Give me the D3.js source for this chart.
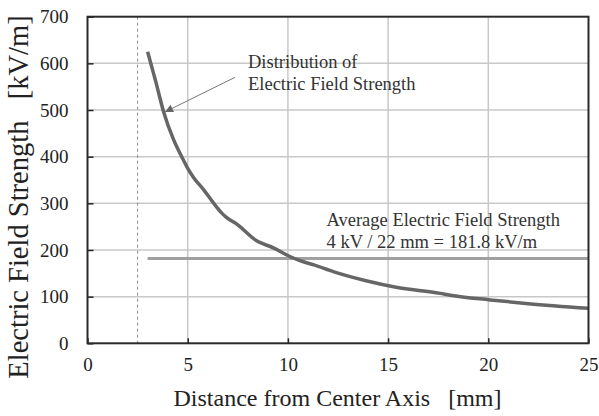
<!DOCTYPE html>
<html>
<head>
<meta charset="utf-8">
<script src="https://cdn.jsdelivr.net/npm/d3@7"></script>
<style>
  html, body { margin: 0; padding: 0; background: #fff; }
  svg { display: block; }
  svg text { font-family: "Liberation Serif", "DejaVu Serif", serif; }
</style>
</head>
<body>
<svg id="chart" width="599" height="416"></svg>
<script>
// Radial distance from the center axis [mm]
const distance = [3.0, 3.4, 3.8, 4.3, 4.7, 5.0, 5.3, 5.8, 6.3, 6.7, 6.9, 7.5, 8.4, 9.3, 10.1, 10.6, 11.3, 12.3, 13.9, 15.4, 17.6, 18.1, 20.1, 22.0, 25.0];
// Simulated electric field strength [kV/m]
const fieldStrength = [625, 562, 496, 436, 400, 375, 355, 329, 300, 279, 271, 254, 221, 204, 186, 177, 168, 153, 134, 120, 107, 103, 93, 85, 75];
// Average field: 4 kV across 22 mm
const averageField = 181.8;
const averageSpan = [3, 25];
// Electrode surface
const electrodeRadius = 2.5;

const xTicks = [0, 5, 10, 15, 20, 25];
const yTicks = [0, 100, 200, 300, 400, 500, 600, 700];

const serif = "Liberation Serif";
const svg = d3.select("#chart");
const plotLeft = 87.5, plotRight = 588.5, plotTop = 16.7, plotBottom = 343.3;

const x = d3.scaleLinear().domain([0, 25]).range([plotLeft, plotRight]);
const y = d3.scaleLinear().domain([0, 700]).range([plotBottom, plotTop]);

// Grid lines
const grid = svg.append("g").attr("stroke", "#c8c8c8").attr("stroke-width", 1.5);
grid.selectAll("line.v").data(xTicks.slice(1, -1)).join("line").attr("class", "v")
  .attr("x1", d => x(d)).attr("x2", d => x(d)).attr("y1", plotTop).attr("y2", plotBottom);
grid.selectAll("line.h").data(yTicks.slice(1, -1)).join("line").attr("class", "h")
  .attr("x1", plotLeft).attr("x2", plotRight).attr("y1", d => y(d)).attr("y2", d => y(d));

// Electrode surface marker
svg.append("line")
  .attr("x1", x(electrodeRadius)).attr("x2", x(electrodeRadius))
  .attr("y1", plotTop).attr("y2", plotBottom)
  .attr("stroke", "#8a8a8a").attr("stroke-width", 1).attr("stroke-dasharray", "3,3");

// Average field line
svg.append("line")
  .attr("x1", x(averageSpan[0])).attr("x2", x(averageSpan[1]))
  .attr("y1", y(averageField)).attr("y2", y(averageField))
  .attr("stroke", "#a0a0a0").attr("stroke-width", 3);

// Field distribution curve
const line = d3.line().x(d => x(d[0])).y(d => y(d[1])).curve(d3.curveMonotoneX);
svg.append("path")
  .datum(distance.map((r, i) => [r, fieldStrength[i]]))
  .attr("d", line)
  .attr("fill", "none").attr("stroke", "#666").attr("stroke-width", 3.5)
  .attr("stroke-linejoin", "round").attr("stroke-linecap", "butt");

// Axes with inward ticks
const xAxis = d3.axisBottom(x).tickValues(xTicks).tickSize(-5).tickPadding(14).tickFormat(d3.format("d"));
const yAxis = d3.axisLeft(y).tickValues(yTicks).tickSize(-6).tickPadding(19).tickFormat(d3.format("d"));

const gx = svg.append("g").attr("transform", `translate(0,${plotBottom})`).call(xAxis);
const gy = svg.append("g").attr("transform", `translate(${plotLeft},0)`).call(yAxis);
[gx, gy].forEach(g => {
  g.attr("font-family", serif).attr("font-size", 19);
  g.select(".domain").remove();
  g.selectAll(".tick line").attr("stroke", "#222").attr("stroke-width", 1.5);
  g.selectAll(".tick text").attr("fill", "#222");
});
gx.selectAll(".tick text").attr("dy", "0.71em");

// Plot frame
svg.append("rect")
  .attr("x", plotLeft).attr("y", plotTop).attr("width", plotRight - plotLeft).attr("height", plotBottom - plotTop)
  .attr("fill", "none").attr("stroke", "#2a2a2a").attr("stroke-width", 2);

// Axis titles
svg.append("text")
  .attr("x", 337.5).attr("y", 406)
  .attr("text-anchor", "middle").attr("fill", "#222")
  .attr("font-family", serif).attr("font-size", 24)
  .style("white-space", "pre")
  .text("Distance from Center Axis   [mm]");

svg.append("text")
  .attr("transform", "translate(28,197) rotate(-90)")
  .attr("text-anchor", "middle").attr("fill", "#222")
  .attr("font-family", serif).attr("font-size", 28.5)
  .style("white-space", "pre")
  .text("Electric Field Strength   [kV/m]");

// Annotation: distribution curve
const defs = svg.append("defs");
defs.append("marker").attr("id", "arrowhead")
  .attr("viewBox", "0 0 10 10").attr("refX", 10).attr("refY", 5)
  .attr("markerWidth", 10).attr("markerHeight", 8).attr("markerUnits", "userSpaceOnUse")
  .attr("orient", "auto")
  .append("path").attr("d", "M0,0 L10,5 L0,10 Z").attr("fill", "#666");

svg.append("line")
  .attr("x1", x(7.36)).attr("y1", y(570))
  .attr("x2", x(3.87)).attr("y2", y(496))
  .attr("stroke", "#777").attr("stroke-width", 1)
  .attr("marker-end", "url(#arrowhead)");

const note1 = svg.append("text").attr("fill", "#333").attr("font-family", serif).attr("font-size", 18.5);
note1.append("tspan").attr("x", 248).attr("y", 67.5).text("Distribution of");
note1.append("tspan").attr("x", 248).attr("y", 90).text("Electric Field Strength");

const note2 = svg.append("text").attr("fill", "#333").attr("font-family", serif).attr("font-size", 18.5);
note2.append("tspan").attr("x", 326.5).attr("y", 226).text("Average Electric Field Strength");
note2.append("tspan").attr("x", 326.5).attr("y", 247.5).text("4 kV / 22 mm = 181.8 kV/m");
</script>
</body>
</html>
